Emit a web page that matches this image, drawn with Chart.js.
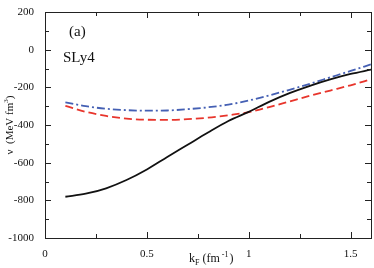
<!DOCTYPE html>
<html><head><meta charset="utf-8">
<script src="https://cdn.jsdelivr.net/npm/chart.js@4"></script>
<style>html,body{margin:0;padding:0;background:#fff}#wrap{width:374px;height:268px}</style>
</head><body><div id="wrap"><canvas id="c"></canvas></div>
<script>
const kF = [0.1,0.2,0.3,0.4,0.5,0.6,0.7,0.8,0.9,1.0,1.1,1.2,1.3,1.4,1.5,1.6];
const blackVals = [-781,-765,-736,-692,-636,-570,-505,-440,-379,-330,-277,-231,-192,-158,-129,-106];
const blueVals  = [-280,-300,-314,-321,-324,-323,-316,-306,-292,-270,-243,-213,-181,-147,-113,-78];
const redVals   = [-298,-330,-352,-366,-372,-373,-369,-361,-348,-332,-305,-275,-245,-217,-189,-157];
const xTickLabels = ["0","0.5","1","1.5"];
const yTickLabels = ["-1000","-800","-600","-400","-200","0","200"];

const pts = v => kF.map((x,i)=>({x:x,y:v[i]}));
const SERIF = "'Liberation Serif','DejaVu Serif',serif";

const frame = {
  id:'frame',
  afterDraw(chart){
    const {ctx, chartArea:a, scales:{x,y}} = chart;
    ctx.save();
    ctx.strokeStyle='#222'; ctx.lineWidth=1;
    ctx.strokeRect(Math.round(a.left)+0.5, Math.round(a.top)+0.5, Math.round(a.right-a.left), Math.round(a.bottom-a.top));
    ctx.beginPath();
    for(let v=0; v<=1.6001; v+=0.25){
      const px=Math.round(x.getPixelForValue(v))+0.5;
      const major=Math.abs(v/0.5-Math.round(v/0.5))<1e-6;
      const L=major?6:4;
      ctx.moveTo(px,a.bottom); ctx.lineTo(px,a.bottom-L);
      ctx.moveTo(px,a.top); ctx.lineTo(px,a.top+L);
    }
    for(let v=-1000; v<=200; v+=100){
      const py=Math.round(y.getPixelForValue(v))+0.5;
      const major=(v%200===0);
      const L=major?6:4;
      ctx.moveTo(a.left,py); ctx.lineTo(a.left+L,py);
      ctx.moveTo(a.right,py); ctx.lineTo(a.right-L,py);
    }
    ctx.stroke();
    // annotations
    ctx.fillStyle='#111';
    ctx.font='15px '+SERIF;
    ctx.textBaseline='alphabetic';
    ctx.textAlign='left';
    ctx.fillText('(a)',69,36);
    ctx.fillText('SLy4',63,62);
    // x title
    ctx.font='12px '+SERIF;
    let xs=189, ys=262;
    ctx.fillText('k',xs,ys); let w=ctx.measureText('k').width;
    ctx.font='8px '+SERIF; ctx.fillText('F',xs+w,ys+3); w+=ctx.measureText('F').width+3;
    ctx.font='12px '+SERIF; ctx.fillText('(fm',xs+w,ys); w+=ctx.measureText('(fm').width+2;
    ctx.font='8px '+SERIF; ctx.fillText('-1',xs+w,ys-5); w+=ctx.measureText('-1').width+1;
    ctx.font='12px '+SERIF; ctx.fillText(')',xs+w,ys);
    // y title
    ctx.save();
    ctx.translate(13,125); ctx.rotate(-Math.PI/2);
    ctx.textAlign='left';
    ctx.font='11px '+SERIF;
    let parts=[['ν',11,0],['  (MeV fm',11,0],['3',7,-5],[')',11,0]];
    let tw=0; parts.forEach(p=>{ctx.font=p[1]+'px '+SERIF; tw+=ctx.measureText(p[0]).width;});
    let cx=-tw/2;
    parts.forEach(p=>{ctx.font=p[1]+'px '+SERIF; ctx.fillText(p[0],cx,p[2]); cx+=ctx.measureText(p[0]).width;});
    ctx.restore();
    ctx.restore();
  }
};

new Chart(document.getElementById('c'),{
  type:'scatter',
  data:{datasets:[
    {data:pts(blackVals),showLine:true,borderColor:'#111',borderWidth:1.8,pointRadius:0,tension:0.4,cubicInterpolationMode:'monotone'},
    {data:pts(redVals),showLine:true,borderColor:'#e8352c',borderWidth:1.8,borderDash:[8,4],pointRadius:0,cubicInterpolationMode:'monotone'},
    {data:pts(blueVals),showLine:true,borderColor:'#4560b4',borderWidth:1.8,borderDash:[8,3,2,3],pointRadius:0,cubicInterpolationMode:'monotone'}
  ]},
  options:{
    responsive:true,maintainAspectRatio:false,animation:false,
    layout:{padding:{left:0,top:12,right:3,bottom:0}},
    plugins:{legend:{display:false},tooltip:{enabled:false}},
    scales:{
      x:{type:'linear',min:0,max:1.6,
        grid:{display:false},border:{display:false},
        afterFit(s){s.height=30;},
        afterBuildTicks(s){s.ticks=[0,0.5,1,1.5].map(v=>({value:v}));},
        ticks:{autoSkip:false,maxRotation:0,padding:2,color:'#111',font:{family:SERIF,size:11},
          callback:(v)=>xTickLabels[Math.round(v/0.5)]}
      },
      y:{type:'linear',min:-1000,max:200,
        grid:{display:false},border:{display:false},
        afterFit(s){s.width=45;},
        afterBuildTicks(s){s.ticks=[-1000,-800,-600,-400,-200,0,200].map(v=>({value:v}));},
        ticks:{autoSkip:false,padding:3,color:'#111',font:{family:SERIF,size:11},
          callback:(v)=>yTickLabels[Math.round((v+1000)/200)]}
      }
    }
  },
  plugins:[frame]
});
</script></body></html>
